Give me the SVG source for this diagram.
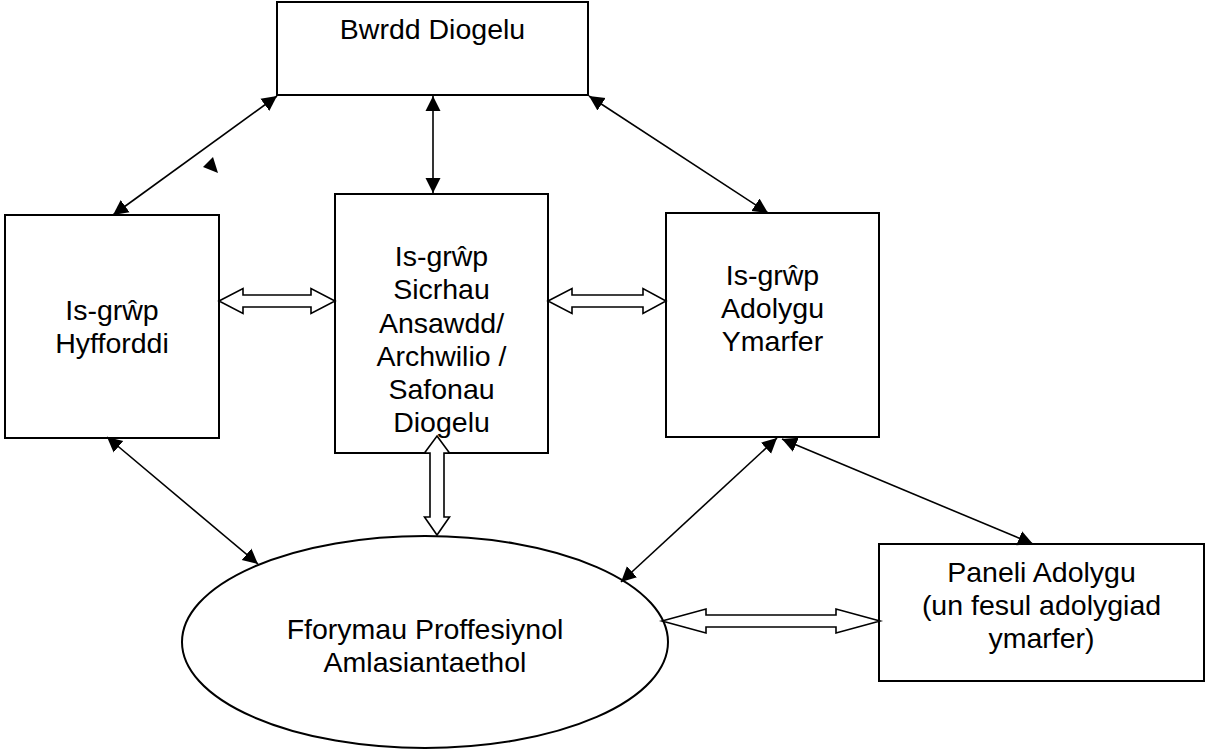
<svg xmlns="http://www.w3.org/2000/svg" width="1205" height="749" viewBox="0 0 1205 749">
<defs>
<style>
.box{fill:#fff;stroke:#000;stroke-width:2}
.lbl{font-family:"Liberation Sans",Arial,sans-serif;font-size:28.5px;fill:#000;text-anchor:middle}
.conn{stroke:#000;stroke-width:1.6;fill:none;marker-start:url(#ah);marker-end:url(#ah)}
.hollow{fill:#fff;stroke:#000;stroke-width:1.6;stroke-linejoin:miter}
</style>
<marker id="ah" markerUnits="userSpaceOnUse" markerWidth="16" markerHeight="16" refX="15" refY="7.5" orient="auto-start-reverse" viewBox="0 0 16 15">
<path d="M0,0 L15,7.5 L0,15 z" fill="#000"/>
</marker>
</defs>
<rect width="1205" height="749" fill="#fff"/>

<g id="node-bwrdd">
<rect class="box" x="277" y="2" width="311" height="93"/>
<text class="lbl" x="432.5" y="39">Bwrdd Diogelu</text>
</g>

<g id="node-hyfforddi">
<rect class="box" x="5" y="215" width="214" height="223"/>
<text class="lbl" x="112" y="320">Is-grŵp</text>
<text class="lbl" x="112" y="353">Hyfforddi</text>
</g>

<g id="node-sicrhau">
<rect class="box" x="335" y="194" width="213" height="259"/>
<text class="lbl" x="441.5" y="266">Is-grŵp</text>
<text class="lbl" x="441.5" y="299">Sicrhau</text>
<text class="lbl" x="441.5" y="333">Ansawdd/</text>
<text class="lbl" x="441.5" y="366">Archwilio /</text>
<text class="lbl" x="441.5" y="399">Safonau</text>
<text class="lbl" x="441.5" y="432">Diogelu</text>
</g>

<g id="node-adolygu">
<rect class="box" x="666" y="213" width="213" height="224"/>
<text class="lbl" x="772.5" y="285">Is-grŵp</text>
<text class="lbl" x="772.5" y="318">Adolygu</text>
<text class="lbl" x="772.5" y="351">Ymarfer</text>
</g>

<g id="node-fforymau">
<ellipse class="box" cx="425" cy="642" rx="243" ry="106"/>
<text class="lbl" x="425" y="639">Fforymau Proffesiynol</text>
<text class="lbl" x="425" y="672">Amlasiantaethol</text>
</g>

<g id="node-paneli">
<rect class="box" x="879" y="544" width="325" height="137"/>
<text class="lbl" x="1041.5" y="582">Paneli Adolygu</text>
<text class="lbl" x="1041.5" y="615">(un fesul adolygiad</text>
<text class="lbl" x="1041.5" y="648">ymarfer)</text>
</g>

<g id="connectors">
<line class="conn" x1="277" y1="96" x2="113" y2="215"/>
<line class="conn" x1="433" y1="96" x2="433" y2="193"/>
<line class="conn" x1="589" y1="96" x2="768" y2="213"/>
<line class="conn" x1="107" y1="437" x2="258" y2="564"/>
<line class="conn" x1="777" y1="438" x2="621" y2="582"/>
<line class="conn" x1="782" y1="439" x2="1033" y2="544"/>
<polygon points="213,157 203,167 218,173" fill="#000"/>
<polygon class="hollow" points="219,301 243,288.5 243,295 311,295 311,288.5 335,301 311,313.5 311,307 243,307 243,313.5"/>
<polygon class="hollow" points="548,301 572,288.5 572,295 643,295 643,288.5 666,301 643,313.5 643,307 572,307 572,313.5"/>
<polygon class="hollow" points="437,436 449.5,453 444,453 444,517 449.5,517 437,535 424.5,517 430,517 430,453 424.5,453"/>
<polygon class="hollow" points="662,621 706,609 706,615 836,615 836,609 880,621 836,633 836,627 706,627 706,633"/>
</g>
</svg>
